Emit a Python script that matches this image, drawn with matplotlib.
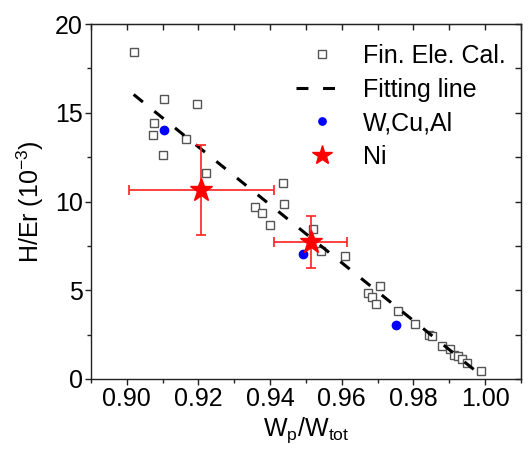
import numpy as np
import matplotlib
matplotlib.use("Agg")
import matplotlib.pyplot as plt
from matplotlib.ticker import MultipleLocator

plt.rcParams['font.family'] = ['Liberation Sans', 'DejaVu Sans']
plt.rcParams['mathtext.default'] = 'regular'

# finite element calculation points
fe_x = [0.9020, 0.9103, 0.9195, 0.9075, 0.9072, 0.9164, 0.9100, 0.9220,
        0.9435, 0.9440, 0.9359, 0.9376, 0.9401, 0.9521, 0.9543, 0.9610,
        0.9708, 0.9674, 0.9685, 0.9696, 0.9758, 0.9805, 0.9844, 0.9852,
        0.9880, 0.9903, 0.9914, 0.9925, 0.9936, 0.9950, 0.9989]
fe_y = [18.42, 15.77, 15.49, 14.42, 13.75, 13.52, 12.62, 11.61,
        11.04, 9.86, 9.69, 9.35, 8.68, 8.45, 7.21, 6.93,
        5.24, 4.85, 4.62, 4.23, 3.83, 3.10, 2.48, 2.42,
        1.86, 1.69, 1.35, 1.30, 1.13, 0.90, 0.45]

# fitting line end points
fit_x = [0.9019, 0.9988]
fit_y = [16.03, 0.22]

# W, Cu, Al
wca_x = [0.9105, 0.9493, 0.9752]
wca_y = [14.05, 7.04, 3.06]

# Ni with error bars
ni_x = [0.9208, 0.9513]
ni_y = [10.65, 7.72]
ni_xerr = [0.0203, 0.0102]
ni_yerr = [2.56, 1.46]

fig = plt.figure(figsize=(5.31, 4.54), dpi=100)
ax = fig.add_axes([0.1714, 0.1652, 0.8096, 0.7818])

ax.plot(fe_x, fe_y, 's', ms=5.8, mfc='white', mec='#555555', mew=1.0,
        label='Fin. Ele. Cal.', zorder=3)
ax.plot(fit_x, fit_y, '--', color='black', lw=2.2, dashes=(3.9, 4.8),
        label='Fitting line', zorder=4)
ax.plot(wca_x, wca_y, 'o', ms=6, color='#0000ff', label='W,Cu,Al', zorder=5)
ax.errorbar(ni_x, ni_y, xerr=ni_xerr, yerr=ni_yerr, fmt='none',
            ecolor='#ff2020', elinewidth=1.2, capsize=3.5, capthick=1.2, zorder=5)
ax.plot(ni_x, ni_y, '*', ms=17, color='#ff0000', mec='#ff0000', label='Ni', zorder=6)

ax.set_xlim(0.89, 1.01)
ax.set_ylim(0, 20)
ax.xaxis.set_major_locator(MultipleLocator(0.02))
ax.xaxis.set_minor_locator(MultipleLocator(0.01))
ax.yaxis.set_major_locator(MultipleLocator(5))
ax.yaxis.set_minor_locator(MultipleLocator(2.5))
ax.xaxis.set_major_formatter(plt.FormatStrFormatter('%.2f'))

for sp in ax.spines.values():
    sp.set_linewidth(1.0)
    sp.set_color('#222222')

ax.tick_params(which='both', direction='out', top=False, right=False,
               labelsize=18, pad=2, width=1.0, color='#222222')
ax.tick_params(which='major', length=4)
ax.tick_params(which='minor', length=3)

# inward ticks on top and right
sec_x = ax.secondary_xaxis('top')
sec_x.xaxis.set_major_locator(MultipleLocator(0.01))
sec_x.tick_params(direction='in', length=4, width=1.0, labeltop=False, color='#222222')
sec_y = ax.secondary_yaxis('right')
sec_y.yaxis.set_major_locator(MultipleLocator(2.5))
sec_y.tick_params(direction='in', length=4, width=1.0, labelright=False, color='#222222')

ax.set_xlabel('W$_p$/W$_{tot}$', fontsize=18, labelpad=3)
ax.set_ylabel('H/Er (10$^{-3}$)', fontsize=18, labelpad=6)

ax.legend(loc='upper right', bbox_to_anchor=(0.991, 0.975), frameon=False,
          fontsize=18, handlelength=2.1, handletextpad=0.6, labelspacing=0.38,
          borderpad=0.3, borderaxespad=0.15, markerscale=0.88)

fig.savefig('out.png', dpi=100)
